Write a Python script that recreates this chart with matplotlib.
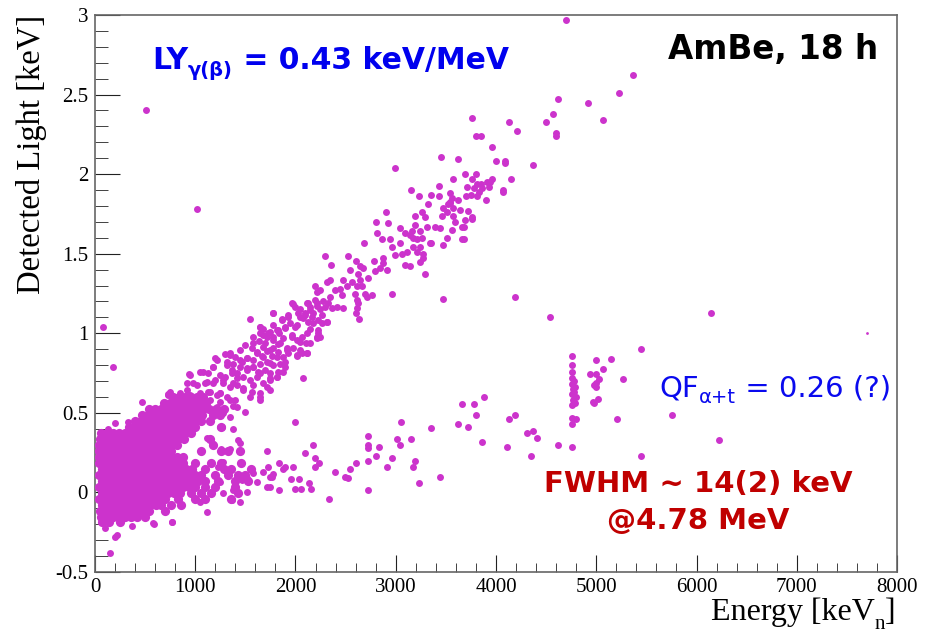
import matplotlib
matplotlib.use("Agg")
import matplotlib.pyplot as plt
from matplotlib.ticker import MultipleLocator

# ---- values: energy [keV_n], detected light [keV] ----

# dense gamma/beta core, one row of energies per light level
core_light = [0.597, 0.560, 0.522, 0.484, 0.447, 0.409, 0.371, 0.334, 0.296,
              0.258, 0.220, 0.183, 0.145, 0.107, 0.069, 0.032, -0.006, -0.044,
              -0.081, -0.119, -0.157, -0.185]
core_energy = [
    [780, 840, 900, 960, 1020, 1080],
    [690, 750, 810, 870, 930, 990, 1050, 1110],
    [540, 600, 660, 720, 780, 840, 900, 960, 1020, 1080, 1140, 1210, 1290],
    [470, 530, 590, 650, 710, 770, 830, 890, 950, 1010, 1070, 1180, 1250],
    [400, 460, 520, 580, 640, 700, 760, 820, 880, 940, 1000, 1060, 1150],
    [340, 400, 460, 520, 580, 640, 700, 760, 820, 880, 940, 1000, 1260],
    [60, 120, 180, 240, 300, 360, 420, 480, 540, 600, 660, 720, 780, 840, 900, 960],
    [50, 110, 170, 230, 290, 350, 410, 470, 530, 590, 650, 710, 770, 830, 890, 1150],
    [40, 100, 160, 220, 280, 340, 400, 460, 520, 580, 640, 700, 760, 820, 1180],
    [40, 100, 160, 220, 280, 340, 400, 460, 520, 580, 640, 700, 760, 1060, 1260, 1330, 1450],
    [40, 100, 160, 220, 280, 340, 400, 460, 520, 580, 640, 700, 760, 820, 880],
    [40, 100, 160, 220, 280, 340, 400, 460, 520, 580, 640, 700, 760, 820, 880, 1000, 1160,
     1260, 1460],
    [70, 130, 190, 250, 310, 370, 430, 490, 550, 610, 670, 730, 790, 850, 910, 970, 1100,
     1290, 1360, 1560],
    [40, 100, 160, 220, 280, 340, 400, 460, 520, 580, 640, 700, 760, 820, 880, 940, 1000,
     1060, 1200, 1330, 1430, 1500],
    [70, 130, 190, 250, 310, 370, 430, 490, 550, 610, 670, 730, 790, 850, 910, 970, 1030,
     1100, 1230, 1400, 1530],
    [40, 100, 160, 220, 280, 340, 400, 460, 520, 580, 640, 700, 760, 820, 880, 940, 1000,
     1100, 1200, 1400],
    [70, 130, 190, 250, 310, 370, 430, 490, 550, 610, 670, 730, 790, 850, 960, 1060, 1160, 1430],
    [40, 100, 160, 220, 280, 340, 400, 460, 520, 580, 640, 700, 830, 1000, 1100, 1360],
    [70, 130, 190, 250, 310, 370, 430, 490, 550, 610, 660, 760, 860],
    [50, 110, 170, 230, 290, 350, 410, 470, 540, 700],
    [60, 120, 180, 240, 300, 360, 420, 500],
    [70, 140, 250],
]

# upper (gamma/beta) band
band_pts = [
    (1197, 0.845), (1177, 0.79), (948, 0.74), (1047, 0.756), (1127, 0.75), (938, 0.745),
    (1197, 0.706), (918, 0.69), (1017, 0.675), (1097, 0.69), (1217, 0.61), (748, 0.63),
    (848, 0.625), (948, 0.61), (1047, 0.625), (1127, 0.63), (469, 0.57), (1147, 0.58),
    (1247, 0.57), (728, 0.61), (1117, 0.34), (1167, 0.31), (1247, 0.41), (1426, 0.33),
    (1446, 0.31), (1257, 0.27), (1347, 0.27),
    (3322, 1.812), (3541, 1.82), (3511, 1.76), (3461, 1.74), (3571, 1.74), (3192, 1.74),
    (3262, 1.76), (3292, 1.73), (2903, 1.76), (2803, 1.70), (2923, 1.69), (3192, 1.68),
    (3312, 1.67), (3392, 1.67), (3441, 1.66), (3561, 1.65), (3042, 1.66), (3162, 1.64),
    (3242, 1.64), (2813, 1.63), (3092, 1.63), (3142, 1.62), (2863, 1.59), (2943, 1.59),
    (3042, 1.57), (3172, 1.60), (3212, 1.59), (3262, 1.60), (3342, 1.57), (3511, 1.60),
    (2683, 1.57), (2963, 1.54), (3172, 1.54), (3242, 1.54), (3212, 1.51), (3272, 1.50),
    (2993, 1.49), (3062, 1.50), (3112, 1.51), (3242, 1.45), (3272, 1.47), (3092, 1.43),
    (3142, 1.42), (3352, 1.57), (3471, 1.555), (3292, 1.37), (2963, 1.25), (3471, 1.215),
    (2294, 1.485), (2354, 1.43), (2524, 1.485), (2604, 1.455), (2783, 1.455), (2873, 1.47),
    (2643, 1.42), (2673, 1.41), (2544, 1.40), (2793, 1.39), (2843, 1.41), (2873, 1.44),
    (2913, 1.40), (2723, 1.35), (2623, 1.37), (2643, 1.335), (2663, 1.30), (2344, 1.335),
    (2314, 1.32), (2474, 1.335), (2514, 1.30), (2564, 1.32), (2614, 1.30), (2194, 1.30),
    (2244, 1.27), (2214, 1.26), (2394, 1.27), (2444, 1.28), (2464, 1.24), (2693, 1.25),
    (2713, 1.23), (2763, 1.24), (2594, 1.25), (2614, 1.21), (2623, 1.19), (2614, 1.16),
    (2604, 1.13), (2633, 1.09), (2344, 1.23), (2274, 1.20), (2324, 1.19), (2414, 1.165),
    (2364, 1.16), (2474, 1.16), (2194, 1.21), (2214, 1.17), (2144, 1.165), (2244, 1.15),
    (2095, 1.13), (2174, 1.13), (1965, 1.19), (1995, 1.165), (2045, 1.15), (2125, 1.19),
    (1776, 1.13), (1865, 1.09), (1925, 1.115), (1546, 1.09), (1646, 1.04), (1676, 1.03),
    (1776, 1.05), (1825, 1.02), (1895, 1.04), (1945, 1.065), (1995, 1.04), (2045, 1.10),
    (2095, 1.115), (2125, 1.07), (2164, 1.10), (2224, 1.085), (2264, 1.065), (2314, 1.07),
    (2144, 1.03), (2224, 1.00), (2244, 0.975), (2214, 0.97), (1676, 0.99), (1726, 1.00),
    (1776, 0.975), (1835, 1.00), (1875, 0.97), (1965, 0.99), (2015, 0.96), (2065, 0.975),
    (2105, 0.94), (1576, 0.975), (1636, 0.95), (1696, 0.94), (1776, 0.91), (1825, 0.93),
    (1915, 0.91), (1975, 0.905), (2045, 0.895), (2115, 0.876), (1496, 0.926), (1566, 0.91),
    (1616, 0.88), (1666, 0.86), (1716, 0.89), (1765, 0.86), (1825, 0.88), (1875, 0.85),
    (1925, 0.876), (2015, 0.86), (2065, 0.876), (1297, 0.87), (1347, 0.876), (1397, 0.85),
    (1446, 0.83), (1516, 0.845), (1576, 0.83), (1646, 0.81), (1716, 0.82), (1776, 0.80),
    (1845, 0.81), (1895, 0.79), (1317, 0.82), (1377, 0.81), (1446, 0.79), (1516, 0.78),
    (1576, 0.79), (1626, 0.756), (1696, 0.77), (1746, 0.75), (1825, 0.756), (1247, 0.74),
    (1297, 0.725), (1367, 0.75), (1417, 0.72), (1476, 0.725), (1546, 0.706), (1616, 0.725),
    (1676, 0.69), (1746, 0.706), (1815, 0.725), (1277, 0.69), (1347, 0.66), (1417, 0.675),
    (1476, 0.656), (1566, 0.63), (1646, 0.625), (1716, 0.66), (1746, 0.644), (1247, 0.625),
    (1317, 0.60), (1397, 0.58), (1377, 0.54), (1496, 0.505), (1646, 0.58), (1277, 0.50),
    (1347, 0.475), (1267, 0.41), (1377, 0.40), (2075, 0.72),
    (3451, 2.11), (3621, 2.095), (2993, 2.04), (3571, 1.97), (3152, 1.90), (3431, 1.925),
    (3232, 1.86), (3352, 1.87), (3431, 1.86), (3541, 1.88), (3561, 1.85), (3621, 1.84),
    (3541, 1.825), (3471, 1.79), (3521, 1.81), (3571, 1.79), (3641, 1.775), (3591, 1.70),
    (3661, 1.67), (3720, 1.77), (3760, 1.73), (3661, 1.59),
    (3690, 2.00), (3800, 2.00), (3760, 1.97), (3960, 1.97), (3910, 1.95), (3810, 1.94),
    (3850, 1.94), (3710, 1.92), (3780, 1.91), (3930, 1.92), (3830, 1.89), (3750, 1.87),
    (3810, 1.86), (3900, 1.84), (3700, 1.86), (3940, 1.95), (3860, 1.91),
    (3760, 1.72), (3690, 1.71), (3680, 1.67), (3680, 1.59),
    (4070, 1.90), (4070, 1.89), (4150, 1.97), (4369, 2.06), (4000, 2.08), (4090, 2.08),
    (4090, 2.07), (3960, 2.17), (3800, 2.24), (3850, 2.24), (3761, 2.35), (4130, 2.33),
    (4210, 2.27), (4499, 2.33), (4568, 2.38), (4598, 2.26), (4598, 2.24), (4618, 2.47),
    (4918, 2.45), (5067, 2.34), (5227, 2.51), (5370, 2.62), (4700, 2.97),
    (4190, 1.23), (4540, 1.10), (6145, 1.13),
]

# extra band events between 0.8 and 2.3 MeV, read from a closer look
band_mid_pts = [
    (1975, 1.184), (2115, 1.19), (2214, 1.19), (2294, 1.165), (2145, 1.146), (2264, 1.115),
    (2314, 1.07), (2025, 1.127), (2075, 1.096), (2174, 1.065), (2224, 1.02), (2115, 1.00),
    (2015, 1.05), (1925, 1.10), (1865, 1.083), (1776, 1.127), (1646, 1.04), (1746, 1.01),
    (1815, 1.02), (1895, 1.033), (1965, 0.977), (2045, 0.945), (2145, 0.94), (2214, 0.977),
    (2115, 0.876), (2015, 0.864), (1915, 0.895), (1845, 0.94), (1776, 0.958), (1716, 0.977),
    (1646, 1.00), (1576, 0.94), (1676, 0.914), (1746, 0.895), (1815, 0.85), (1895, 0.82),
    (1746, 0.813), (1676, 0.85), (1616, 0.876), (1516, 0.845), (1446, 0.895), (1466, 0.82),
    (1347, 0.864), (1317, 0.80), (1217, 0.832), (1177, 0.79), (1367, 0.77), (1417, 0.75),
    (1516, 0.77), (1576, 0.79), (1646, 0.75), (1746, 0.72), (1815, 0.725), (1875, 0.756),
    (1576, 0.675), (1646, 0.60), (1546, 0.60), (1476, 0.644), (1377, 0.69), (1277, 0.706),
    (1177, 0.69), (1077, 0.756), (1117, 0.694), (978, 0.69), (918, 0.644), (878, 0.58),
    (948, 0.593), (1047, 0.61), (1147, 0.63), (1247, 0.625), (1347, 0.58), (1417, 0.537),
    (778, 0.58), (818, 0.537), (1217, 0.537), (1077, 0.56),
]

# lower (alpha+t) arm and the 4.78 MeV line
arm_pts = [
    (1995, 0.442), (3052, 0.44), (3352, 0.405), (3621, 0.43), (3661, 0.555), (2723, 0.355),
    (2723, 0.30), (2723, 0.28), (2723, 0.20), (2833, 0.285), (2803, 0.23), (2723, 0.015),
    (3012, 0.335), (3042, 0.30), (3152, 0.335), (2963, 0.216), (2913, 0.16), (3192, 0.20),
    (3172, 0.16), (3232, 0.06), (3441, 0.10), (2603, 0.185), (2543, 0.147), (2494, 0.10),
    (2524, 0.09), (2394, 0.128), (2334, -0.04), (2174, 0.30), (2194, 0.216), (2234, 0.185),
    (2194, 0.16), (2095, 0.25), (1975, 0.16), (1895, 0.16), (1875, 0.147), (1835, 0.185),
    (1955, 0.085), (2035, 0.085), (1995, 0.02), (2055, 0.02), (2155, 0.02), (2135, 0.06),
    (1835, 0.015), (1716, 0.035), (1746, 0.035), (1776, 0.115), (1746, 0.10), (1726, 0.16),
    (1716, 0.26), (1765, 0.10), (1417, 0.10), (1466, 0.08), (1516, 0.09), (1576, 0.12),
    (1616, 0.065), (1676, 0.13), (1377, 0.015), (1516, 0.003), (1367, -0.05), (1446, -0.06),
    (1227, 0.16), (1277, 0.19), (1347, 0.14), (1247, 0.065), (1277, -0.003), (1047, -0.06),
    (1117, -0.12), (768, -0.185), (579, -0.19),
    (5446, 0.90), (4758, 0.857), (4758, 0.80), (4758, 0.756), (4760, 0.72), (4775, 0.70),
    (4760, 0.68), (4790, 0.66), (4765, 0.65), (4780, 0.63), (4760, 0.62), (4800, 0.60),
    (4770, 0.58), (4790, 0.56), (4760, 0.55), (4760, 0.47), (4800, 0.46), (4760, 0.43),
    (4760, 0.285), (4998, 0.83), (5147, 0.84), (5067, 0.775), (4938, 0.745), (4998, 0.745),
    (5030, 0.71), (4998, 0.69), (4978, 0.675), (4998, 0.66), (5017, 0.587), (4968, 0.568),
    (4978, 0.56), (5267, 0.71), (5207, 0.46), (5756, 0.485), (6225, 0.33), (5446, 0.23),
    (3880, 0.60), (3780, 0.555), (3800, 0.485), (3720, 0.41), (3860, 0.32), (4130, 0.46),
    (4190, 0.485), (4110, 0.285), (4310, 0.373), (4370, 0.386), (4410, 0.34), (4350, 0.23),
    (4618, 0.30),
]

# isolated events
stray_pts = [(510, 2.40), (1020, 1.78), (80, 1.04), (180, 0.79), (200, 0.434), (330, 0.44),
             (130, 0.40), (725, 0.616), (150, -0.383), (200, -0.28), (216, -0.27),
             (100, -0.226), (366, -0.21), (592, -0.199), (765, -0.184)]
tiny_pts = [(7700, 1.00)]

x_ticks = [0, 1000, 2000, 3000, 4000, 5000, 6000, 7000, 8000]
y_ticks = [-0.5, 0, 0.5, 1, 1.5, 2, 2.5, 3]
y_tick_labels = ["-0.5", "0", "0.5", "1", "1.5", "2", "2.5", "3"]

W, H = 928, 638
fig = plt.figure(figsize=(W / 100, H / 100), dpi=100)
ax = fig.add_axes([95 / W, 1 - 572 / H, 802 / W, 557 / H])

core_e, core_l = [], []
for lv, row in zip(core_light, core_energy):
    core_e += row
    core_l += [lv] * len(row)
others = band_pts + band_mid_pts + arm_pts + stray_pts
energy = [p[0] for p in others]
light = [p[1] for p in others]

dot = "#cc33cc"
ax.scatter(core_e, core_l, s=44, c=dot, linewidths=0, zorder=3)
ax.scatter(energy, light, s=25, c=dot, linewidths=0, zorder=3)
ax.scatter([p[0] for p in tiny_pts], [p[1] for p in tiny_pts], s=4, c=dot,
           linewidths=0, zorder=3)

ax.set_xlim(0, 8000)
ax.set_ylim(-0.5, 3)
ax.set_xticks(x_ticks)
ax.set_xticklabels([str(t) for t in x_ticks], fontfamily="Liberation Serif", fontsize=15)
ax.set_yticks(y_ticks)
ax.set_yticklabels(y_tick_labels, fontfamily="Liberation Serif", fontsize=15)
ax.xaxis.set_minor_locator(MultipleLocator(200))
ax.yaxis.set_minor_locator(MultipleLocator(0.1))
ax.tick_params(which="both", direction="in", top=False, right=False, color="#222222")
ax.tick_params(axis="x", which="major", length=12.5, pad=4)
ax.tick_params(axis="x", which="minor", length=6.5)
ax.tick_params(axis="y", which="major", length=18, pad=5)
ax.tick_params(axis="y", which="minor", length=9.5)
for sp in ax.spines.values():
    sp.set_color("#666666")
    sp.set_linewidth(1.2)

renderer = fig.canvas.get_renderer()


def chain(x, y, parts, color, weight="normal", family="DejaVu Sans", align="left"):
    # parts: (text, size, px shift down); x, y in pixels from top-left, y = baseline
    texts = []
    for s, size, dy in parts:
        t = fig.text(0, 0, s, fontsize=size, color=color, fontweight=weight,
                     fontfamily=family, va="baseline", ha="left")
        texts.append((t, dy, t.get_window_extent(renderer).width))
    total = sum(w for _, _, w in texts)
    if align == "right":
        x -= total
    elif align == "center":
        x -= total / 2
    for t, dy, w in texts:
        t.set_position((x / W, 1 - (y + dy) / H))
        x += w


chain(152, 69, [("LY", 21.5, 0), ("γ(β)", 14, 7), (" = 0.43 keV/MeV", 21.5, 0)],
      "#0000ee", "bold")
chain(878, 59, [("AmBe, 18 h", 23.5, 0)], "black", "bold", align="right")
chain(659, 396, [("QF", 21, 0), ("α+t", 14, 7), (" = 0.26 (?)", 21, 0)], "#0a0aee")
chain(698, 492, [("FWHM ~ 14(2) keV", 21, 0)], "#c00000", "bold", align="center")
chain(698, 529, [("@4.78 MeV", 21, 0)], "#c00000", "bold", align="center")
chain(896, 620, [("Energy [keV", 23, 0), ("n", 15, 9), ("]", 23, 0)], "black",
      family="Liberation Serif", align="right")

fig.text(32 / W, 1 - 15 / H, "Detected Light [keV]", rotation=90, ha="center", va="top",
         fontsize=23.5, fontfamily="Liberation Serif")

fig.savefig("out.png", dpi=100)
